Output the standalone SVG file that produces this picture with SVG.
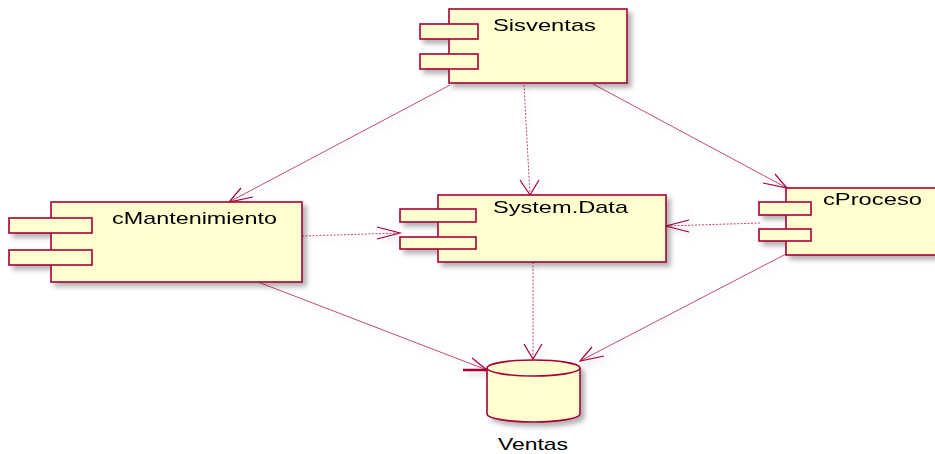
<svg xmlns="http://www.w3.org/2000/svg" width="935" height="454" viewBox="0 0 935 454">
<defs>
<filter id="sh" x="-10%" y="-10%" width="130%" height="140%">
<feDropShadow dx="4" dy="4" stdDeviation="2.5" flood-color="#000" flood-opacity="0.3"/>
</filter>
<filter id="lsh" x="-10%" y="-10%" width="130%" height="140%">
<feDropShadow dx="4" dy="4" stdDeviation="2.5" flood-color="#000" flood-opacity="0.15"/>
</filter>
</defs>
<style>
.box{fill:#FEFECE;stroke:#A80036;stroke-width:1.6}
.lbl{font-family:"Liberation Sans",Arial,sans-serif;font-size:17px;fill:#000}
.edge{fill:none;stroke:#A80036;stroke-width:1;stroke-opacity:0.7}
.dash{stroke-dasharray:2,1.5}
.head{fill:none;stroke:#A80036;stroke-width:1.2}
</style>
<g id="connectors" filter="url(#lsh)">
<line class="edge" x1="450" y1="85" x2="229" y2="202"/>
<polyline class="head" points="241,188 229,202 253,197"/>
<line class="edge dash" x1="524" y1="85" x2="530" y2="195"/>
<polyline class="head" points="520,180 530,195 539,180"/>
<line class="edge" x1="593" y1="84" x2="787" y2="188"/>
<polyline class="head" points="763,183 787,188 775,174"/>
<line class="edge dash" x1="302" y1="236" x2="400" y2="233"/>
<polyline class="head" points="377,227 400,233 377,239"/>
<line class="edge dash" x1="760" y1="223" x2="666" y2="226"/>
<polyline class="head" points="689,220 666,226 689,232"/>
<line class="edge dash" x1="533" y1="262" x2="533" y2="359"/>
<polyline class="head" points="524,344 533,359 542,344"/>
<line class="edge" x1="258" y1="282" x2="487" y2="370"/>
<polyline class="head" points="472,358 487,370"/>
<line x1="463" y1="370" x2="487" y2="370" stroke="#A80036" stroke-width="2.5"/>
<line class="edge" x1="786" y1="254" x2="580" y2="361"/>
<polyline class="head" points="592,347 580,361 604,356"/>
</g>
<g id="Sisventas" filter="url(#sh)">
<rect class="box" x="449" y="9" width="178" height="74"/>
<rect class="box" x="420" y="24" width="58" height="15"/>
<rect class="box" x="420" y="54" width="58" height="15"/>
<text class="lbl" x="493" y="31" textLength="103" lengthAdjust="spacingAndGlyphs">Sisventas</text>
</g>
<g id="cMantenimiento" filter="url(#sh)">
<rect class="box" x="51" y="202" width="251" height="80"/>
<rect class="box" x="9" y="218" width="83" height="15"/>
<rect class="box" x="9" y="250" width="83" height="15"/>
<text class="lbl" x="112" y="224" textLength="165" lengthAdjust="spacingAndGlyphs">cMantenimiento</text>
</g>
<g id="SystemData" filter="url(#sh)">
<rect class="box" x="438" y="195" width="228" height="67"/>
<rect class="box" x="400" y="209" width="76" height="13"/>
<rect class="box" x="400" y="237" width="76" height="12"/>
<text class="lbl" x="493" y="213" textLength="135" lengthAdjust="spacingAndGlyphs">System.Data</text>
</g>
<g id="cProceso" filter="url(#sh)">
<rect class="box" x="786" y="188" width="160" height="67"/>
<rect class="box" x="759" y="202" width="52" height="13"/>
<rect class="box" x="759" y="229" width="52" height="12"/>
<text class="lbl" x="823" y="205" textLength="99" lengthAdjust="spacingAndGlyphs">cProceso</text>
</g>
<g id="Ventas">
<path class="box" filter="url(#sh)" d="M487,368 A46.5,8 0 0 1 580,368 L580,414 A46.5,8 0 0 1 487,414 Z"/>
<path class="box" fill="none" d="M487,368 A46.5,8 0 0 0 580,368"/>
<text class="lbl" x="498" y="450" textLength="70" lengthAdjust="spacingAndGlyphs">Ventas</text>
</g>
</svg>
